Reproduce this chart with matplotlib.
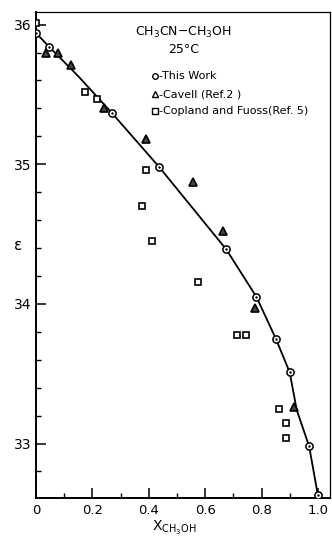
import matplotlib
matplotlib.use('Agg')
import matplotlib.pyplot as plt
import numpy as np

# This Work
x_this = [0.0, 0.047, 0.268, 0.437, 0.675, 0.782, 0.851, 0.900, 0.969, 1.0]
y_this = [35.94, 35.84, 35.37, 34.98, 34.39, 34.05, 33.75, 33.51, 32.98, 32.63]

# Cavell (Ref. 2)
x_cav = [0.034, 0.079, 0.123, 0.242, 0.392, 0.556, 0.662, 0.778, 0.916]
y_cav = [35.80, 35.80, 35.71, 35.40, 35.18, 34.87, 34.52, 33.97, 33.26]

# Copland and Fuoss (Ref. 5)
x_cf = [0.0, 0.174, 0.215, 0.389, 0.377, 0.413, 0.576, 0.712, 0.744, 0.863, 0.887, 0.887]
y_cf = [36.01, 35.52, 35.47, 34.96, 34.70, 34.45, 34.16, 33.78, 33.78, 33.25, 33.15, 33.04]

# smooth curve
x_fit = [0.0, 0.047, 0.15, 0.268, 0.437, 0.558, 0.675, 0.782, 0.851, 0.900, 0.925, 0.969, 1.0]
y_fit = [35.94, 35.84, 35.63, 35.37, 34.98, 34.68, 34.39, 34.05, 33.75, 33.51, 33.24, 32.98, 32.63]

plt.rcParams['font.family'] = 'DejaVu Sans'
fig = plt.figure(figsize=(3.32, 5.36), dpi=100)
ax = fig.add_axes([0.1084, 0.0709, 0.8856, 0.9067])

ax.plot(x_fit, y_fit, color='black', lw=1.3, zorder=2)
ax.plot(x_this, y_this, 'o', ms=5.2, mfc='white', mec='black', mew=1.1, zorder=3)
ax.plot(x_this, y_this, '.', ms=1.5, color='black', zorder=4)
ax.plot(x_cav, y_cav, '^', ms=5.6, mfc='#444444', mec='black', mew=1.2, zorder=3)
ax.plot(x_cf, y_cf, 's', ms=4.6, mfc='white', mec='black', mew=1.2, zorder=3)

ax.set_xlim(0, 1.043)
ax.set_ylim(32.61, 36.09)
ax.set_xticks([0, 0.2, 0.4, 0.6, 0.8, 1.0])
ax.set_xticklabels(['0', '0.2', '0.4', '0.6', '0.8', '1.0'])
ax.set_xticks(np.arange(0.1, 1.0, 0.2), minor=True)
ax.set_yticks([33, 34, 35, 36])
ax.set_yticks([32.8, 33.2, 33.4, 33.6, 33.8, 34.2, 34.4, 34.6, 34.8, 35.2, 35.4, 35.6, 35.8], minor=True)
ax.tick_params(which='major', direction='in', length=7, width=1.1, labelsize=10)
ax.tick_params(axis='x', which='major', pad=4, labelsize=9.5)
ax.tick_params(axis='y', which='major', pad=3)
ax.tick_params(which='minor', direction='in', length=3.5, width=1)
for s in ['left', 'bottom']:
    ax.spines[s].set_linewidth(1.4)
for s in ['top', 'right']:
    ax.spines[s].set_linewidth(0.9)

ax.text(0.5, 0.957, r'CH$_3$CN$-$CH$_3$OH', transform=ax.transAxes, ha='center', va='center', fontsize=9)
ax.text(0.503, 0.922, '25°C', transform=ax.transAxes, ha='center', va='center', fontsize=9)

leg = [('o', 'white', '-This Work', 0.868),
       ('^', 'white', '-Cavell (Ref.2 )', 0.831),
       ('s', 'white', '-Copland and Fuoss(Ref. 5)', 0.796)]
for m, fc, lab, yy in leg:
    ax.plot([0.405], [yy], m, ms=4, mfc=fc, mec='black', mew=1, transform=ax.transAxes, clip_on=False)
    ax.text(0.418, yy, lab, transform=ax.transAxes, ha='left', va='center', fontsize=8)

fig.text(18 / 332, 1 - 246 / 536, 'ε', ha='center', va='center', fontsize=11)
fig.text(152 / 332, 1 - 528 / 536, r'X$_{\mathregular{CH_3OH}}$', ha='left', va='center', fontsize=10)

fig.savefig('out.png', dpi=100)
